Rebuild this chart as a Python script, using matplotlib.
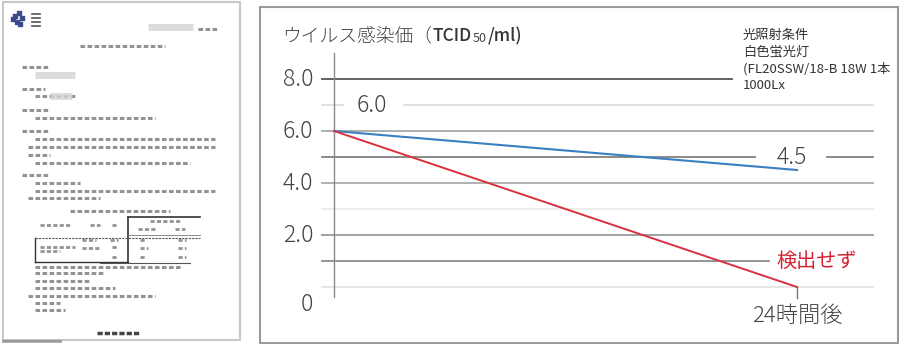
import matplotlib
matplotlib.use("Agg")
import matplotlib.pyplot as plt
from matplotlib.patches import Rectangle

plt.rcParams['font.family'] = ['Noto Sans CJK JP', 'DejaVu Sans']

# virus titer (log TCID50/ml) at start and after 24 h
times = [0, 1]
time_label = "24時間後"
dark_series = [6.0, 4.5]       # blue: in the dark
light_series = [6.0, 0.0]      # red: under fluorescent light
not_detected = "検出せず"
yticks = [8.0, 6.0, 4.0, 2.0, 0]
ytick_labels = ["8.0", "6.0", "4.0", "2.0", "0"]
grid_levels = [8, 7, 6, 5, 4, 3, 2, 1, 0]
grid_colors = ['#555555', '#dddddd', '#a8a8a8', '#808080', '#aaaaaa',
               '#ececec', '#999999', '#8c8c8c', '#e4e4e4']
conditions = ["光照射条件", "白色蛍光灯", "(FL20SSW/18-B 18W 1本", "1000Lx"]

W, H = 900, 344
fig = plt.figure(figsize=(W / 100, H / 100), dpi=100)


def fbox(x0, y0, x1, y1):
    return [x0 / W, 1 - y1 / H, (x1 - x0) / W, (y1 - y0) / H]


# ---- left: report page thumbnail ----
doc = fig.add_axes(fbox(0, 0, 242, 344))
doc.set_xlim(0, 242)
doc.set_ylim(344, 0)
doc.axis('off')
doc.add_patch(Rectangle((3, 2), 237, 338, fc='white', ec='#c8c8c8', lw=1.5))
doc.plot([3, 60], [341, 341], color='#666666', lw=2, alpha=0.6)

text_rows = [
    (46, 80, 165), (67, 22, 50), (89, 22, 45), (96, 35, 75), (110, 22, 50),
    (118, 35, 155), (131, 22, 50), (139, 35, 215), (147, 28, 215), (155, 28, 50),
    (163, 35, 190), (175, 22, 50), (183, 35, 80), (191, 35, 215), (198, 28, 100),
    (211, 70, 170), (267, 35, 180), (273, 35, 105), (281, 35, 90), (288, 35, 115),
    (296, 28, 155), (303, 35, 60), (310, 35, 65), (29, 198, 217),
]
for y, x0, x1 in text_rows:
    doc.plot([x0, x1], [y, y], color='#666666', lw=2.2, ls=(0, (1.5, 0.8)), alpha=0.7)
for y, x0, x1 in [(27, 148, 193), (75, 35, 75), (96, 50, 72)]:
    doc.plot([x0, x1], [y, y], color='#d4d4d4', lw=5, alpha=0.8, solid_capstyle='butt')

# table in the report
doc.plot([128, 200], [217, 217], color='#333333', lw=1.2)
doc.plot([128, 128], [217, 263], color='#333333', lw=1.2)
doc.plot([35, 200], [238, 238], color='#555555', lw=0.8, ls=(0, (2, 1)))
doc.plot([35, 35], [238, 262], color='#333333', lw=1.0)
doc.plot([35, 128], [262, 262], color='#333333', lw=1.0)
doc.plot([100, 190], [263, 263], color='#555555', lw=0.8)
doc.plot([128, 200], [235, 235], color='#777777', lw=0.6)
for y, x0, x1 in [(225, 40, 70), (225, 90, 100), (225, 112, 118), (221, 150, 180),
                  (229, 138, 155), (229, 175, 185), (240, 82, 96), (240, 110, 118),
                  (240, 140, 146), (240, 178, 186), (247, 40, 75), (251, 40, 60),
                  (248, 82, 100), (247, 112, 118), (248, 140, 148), (248, 178, 186),
                  (257, 112, 118), (257, 140, 146), (257, 178, 186)]:
    doc.plot([x0, x1], [y, y], color='#666666', lw=2.0, ls=(0, (1.5, 0.8)), alpha=0.7)

# logos
doc.scatter([15, 19, 22, 17, 13, 20], [16, 13, 18, 22, 19, 24], s=6, c='#3a4a8a', marker='s')
for y in [14, 18, 22, 26]:
    doc.plot([32, 40], [y, y], color='#555555', lw=1.2)
doc.plot([97, 140], [333, 333], color='#444444', lw=2.5, ls=(0, (1.5, 0.6)))

# ---- right: titer chart ----
x0px, x1px, y0px, y1px = 260, 898, 7, 343
ax = fig.add_axes(fbox(x0px, y0px, x1px, y1px))
ppu_x, ppu_y = 463.0, 26.0
ax.set_xlim((x0px - 334) / ppu_x, (x1px - 334) / ppu_x)
ax.set_ylim((287 - y1px) / ppu_y, (287 - y0px) / ppu_y)
ax.axis('off')
ax.add_patch(Rectangle((0, 0), 1, 1, transform=ax.transAxes, fill=False,
                       ec='#9a9a9a', lw=1.5, clip_on=False))

gx0, gx1 = -0.026, 1.164
gaps = {8: [(0.86, gx1)], 7: [(0.02, 0.151)], 5: [(0.91, 1.065)], 1: [(0.94, gx1)]}
for lev, col in zip(grid_levels, grid_colors):
    segs = [(gx0, gx1)]
    for a, b in gaps.get(lev, []):
        segs = [s for seg in segs for s in ((seg[0], a), (b, seg[1])) if s[1] > s[0]]
    for a, b in segs:
        ax.plot([a, b], [lev, lev], color=col, lw=1.3, zorder=1)

# vertical axis and the 24 h tick
ax.plot([0, 0], [9.0, -0.38], color='#8a8a8a', lw=1.0, zorder=2)
ax.plot([times[1], times[1]], [0, -0.42], color='#777777', lw=1.0, zorder=2)

ax.plot(times, dark_series, color='#3a7fc0', lw=1.5, zorder=3)
ax.plot(times, light_series, color='#d9303e', lw=1.4, zorder=3)

num_font = dict(fontsize=16.5, color='#444444', fontweight='light')
for v, lab in zip(yticks, ytick_labels):
    yy = v if v > 0 else -0.69
    ax.text(-0.045, yy, lab, ha='right', va='center', **num_font)

# value labels
ax.text(0.082, dark_series[0] + 1, f"{dark_series[0]:.1f}", ha='center', va='center', **num_font)
ax.text(0.988, dark_series[1] + 0.5, f"{dark_series[1]:.1f}", ha='center', va='center', **num_font)
ax.text(1.043, 1.0, not_detected, ha='center', va='center', fontsize=14.5,
        color='#d42030')
ax.text(times[1], -1.12, time_label, ha='center', va='center', fontsize=16,
        color='#444444', fontweight='light')

# title pieces chained left to right
t = ax.text(-0.112, 9.45, "ウイルス感染価（", ha='left', va='baseline', fontsize=13.5,
            color='#444444', fontweight='light')
pieces = [("TCID", 12.5, '#333333', 'medium', 0),
          ("50", 9.0, '#444444', 'normal', 1),
          ("/ml)", 12.5, '#333333', 'medium', 1)]
for s, fs, col, fw, pad in pieces:
    t = ax.annotate(s, xy=(1, 0), xycoords=t, xytext=(pad, 0), textcoords='offset points',
                    ha='left', va='bottom', fontsize=fs, color=col, fontweight=fw)

for i, line in enumerate(conditions):
    ax.text(0.883, 9.69 - i * 0.65, line, ha='left', va='center', fontsize=9.5,
            color='#333333')

fig.savefig("out.png", dpi=100)
